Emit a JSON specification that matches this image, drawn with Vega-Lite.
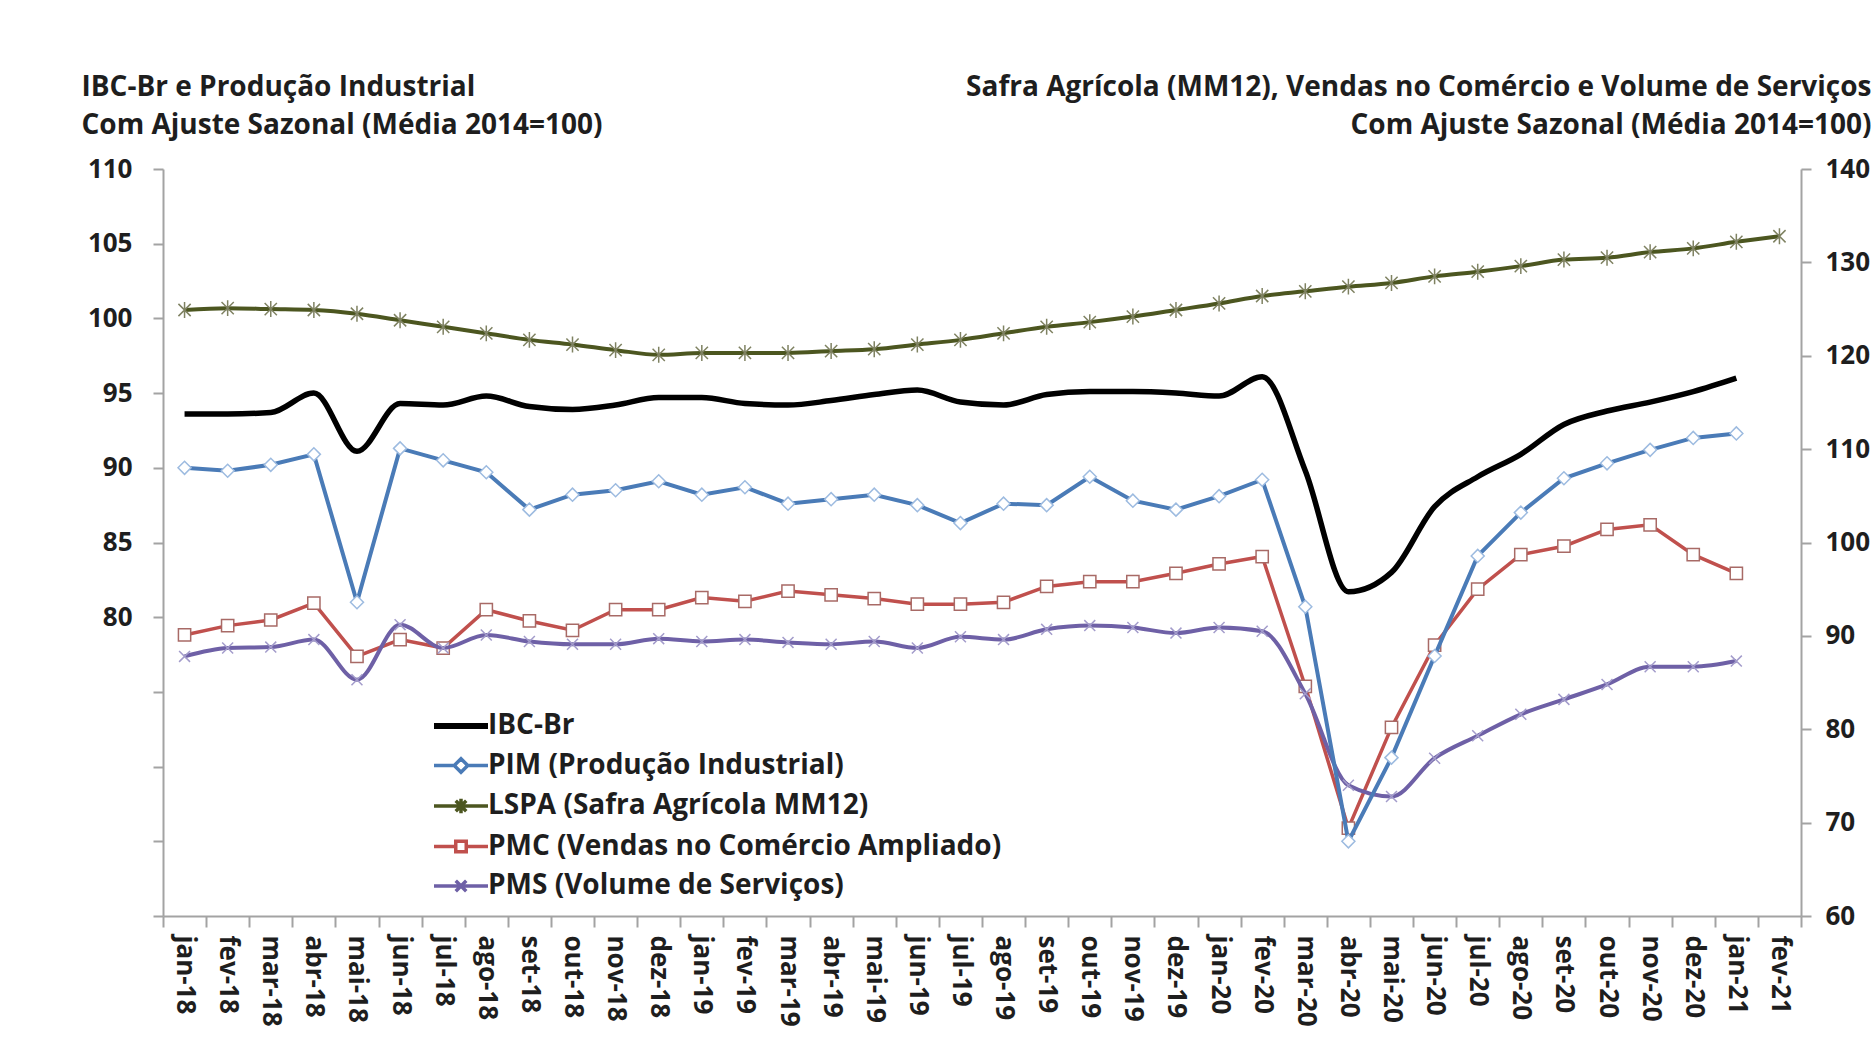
{
  "$schema": "https://vega.github.io/schema/vega-lite/v6.json",
  "width": 1638,
  "height": 747,
  "autosize": "none",
  "padding": {"left": 163, "top": 169, "right": 74, "bottom": 132},
  "background": "white",
  "config": {"view": {"stroke": null}, "font": "Open Sans", "axis": {"grid": false}},
  "data": {"values": [
    {"mes":"jan-18","serie":"IBC-Br","valor":93.6},{"mes":"fev-18","serie":"IBC-Br","valor":93.6},{"mes":"mar-18","serie":"IBC-Br","valor":93.7},{"mes":"abr-18","serie":"IBC-Br","valor":95.0},{"mes":"mai-18","serie":"IBC-Br","valor":91.1},{"mes":"jun-18","serie":"IBC-Br","valor":94.3},{"mes":"jul-18","serie":"IBC-Br","valor":94.2},{"mes":"ago-18","serie":"IBC-Br","valor":94.8},{"mes":"set-18","serie":"IBC-Br","valor":94.1},{"mes":"out-18","serie":"IBC-Br","valor":93.9},{"mes":"nov-18","serie":"IBC-Br","valor":94.2},{"mes":"dez-18","serie":"IBC-Br","valor":94.7},
    {"mes":"jan-19","serie":"IBC-Br","valor":94.7},{"mes":"fev-19","serie":"IBC-Br","valor":94.3},{"mes":"mar-19","serie":"IBC-Br","valor":94.2},{"mes":"abr-19","serie":"IBC-Br","valor":94.5},{"mes":"mai-19","serie":"IBC-Br","valor":94.9},{"mes":"jun-19","serie":"IBC-Br","valor":95.2},{"mes":"jul-19","serie":"IBC-Br","valor":94.4},{"mes":"ago-19","serie":"IBC-Br","valor":94.2},{"mes":"set-19","serie":"IBC-Br","valor":94.9},{"mes":"out-19","serie":"IBC-Br","valor":95.1},{"mes":"nov-19","serie":"IBC-Br","valor":95.1},{"mes":"dez-19","serie":"IBC-Br","valor":95.0},
    {"mes":"jan-20","serie":"IBC-Br","valor":94.8},{"mes":"fev-20","serie":"IBC-Br","valor":96.1},{"mes":"mar-20","serie":"IBC-Br","valor":89.8},{"mes":"abr-20","serie":"IBC-Br","valor":81.7},{"mes":"mai-20","serie":"IBC-Br","valor":83.0},{"mes":"jun-20","serie":"IBC-Br","valor":87.4},{"mes":"jul-20","serie":"IBC-Br","valor":89.4},{"mes":"ago-20","serie":"IBC-Br","valor":90.9},{"mes":"set-20","serie":"IBC-Br","valor":92.9},{"mes":"out-20","serie":"IBC-Br","valor":93.8},{"mes":"nov-20","serie":"IBC-Br","valor":94.4},{"mes":"dez-20","serie":"IBC-Br","valor":95.1},{"mes":"jan-21","serie":"IBC-Br","valor":96.0},

    {"mes":"jan-18","serie":"PIM (Produção Industrial)","valor":90.0},{"mes":"fev-18","serie":"PIM (Produção Industrial)","valor":89.8},{"mes":"mar-18","serie":"PIM (Produção Industrial)","valor":90.2},{"mes":"abr-18","serie":"PIM (Produção Industrial)","valor":90.9},{"mes":"mai-18","serie":"PIM (Produção Industrial)","valor":81.0},{"mes":"jun-18","serie":"PIM (Produção Industrial)","valor":91.3},{"mes":"jul-18","serie":"PIM (Produção Industrial)","valor":90.5},{"mes":"ago-18","serie":"PIM (Produção Industrial)","valor":89.7},{"mes":"set-18","serie":"PIM (Produção Industrial)","valor":87.2},{"mes":"out-18","serie":"PIM (Produção Industrial)","valor":88.2},{"mes":"nov-18","serie":"PIM (Produção Industrial)","valor":88.5},{"mes":"dez-18","serie":"PIM (Produção Industrial)","valor":89.1},
    {"mes":"jan-19","serie":"PIM (Produção Industrial)","valor":88.2},{"mes":"fev-19","serie":"PIM (Produção Industrial)","valor":88.7},{"mes":"mar-19","serie":"PIM (Produção Industrial)","valor":87.6},{"mes":"abr-19","serie":"PIM (Produção Industrial)","valor":87.9},{"mes":"mai-19","serie":"PIM (Produção Industrial)","valor":88.2},{"mes":"jun-19","serie":"PIM (Produção Industrial)","valor":87.5},{"mes":"jul-19","serie":"PIM (Produção Industrial)","valor":86.3},{"mes":"ago-19","serie":"PIM (Produção Industrial)","valor":87.6},{"mes":"set-19","serie":"PIM (Produção Industrial)","valor":87.5},{"mes":"out-19","serie":"PIM (Produção Industrial)","valor":89.4},{"mes":"nov-19","serie":"PIM (Produção Industrial)","valor":87.8},{"mes":"dez-19","serie":"PIM (Produção Industrial)","valor":87.2},
    {"mes":"jan-20","serie":"PIM (Produção Industrial)","valor":88.1},{"mes":"fev-20","serie":"PIM (Produção Industrial)","valor":89.2},{"mes":"mar-20","serie":"PIM (Produção Industrial)","valor":80.7},{"mes":"abr-20","serie":"PIM (Produção Industrial)","valor":65.0},{"mes":"mai-20","serie":"PIM (Produção Industrial)","valor":70.6},{"mes":"jun-20","serie":"PIM (Produção Industrial)","valor":77.4},{"mes":"jul-20","serie":"PIM (Produção Industrial)","valor":84.1},{"mes":"ago-20","serie":"PIM (Produção Industrial)","valor":87.0},{"mes":"set-20","serie":"PIM (Produção Industrial)","valor":89.3},{"mes":"out-20","serie":"PIM (Produção Industrial)","valor":90.3},{"mes":"nov-20","serie":"PIM (Produção Industrial)","valor":91.2},{"mes":"dez-20","serie":"PIM (Produção Industrial)","valor":92.0},{"mes":"jan-21","serie":"PIM (Produção Industrial)","valor":92.3},

    {"mes":"jan-18","serie":"LSPA (Safra Agrícola MM12)","valor":124.9},{"mes":"fev-18","serie":"LSPA (Safra Agrícola MM12)","valor":125.1},{"mes":"mar-18","serie":"LSPA (Safra Agrícola MM12)","valor":125.0},{"mes":"abr-18","serie":"LSPA (Safra Agrícola MM12)","valor":124.9},{"mes":"mai-18","serie":"LSPA (Safra Agrícola MM12)","valor":124.5},{"mes":"jun-18","serie":"LSPA (Safra Agrícola MM12)","valor":123.8},{"mes":"jul-18","serie":"LSPA (Safra Agrícola MM12)","valor":123.1},{"mes":"ago-18","serie":"LSPA (Safra Agrícola MM12)","valor":122.4},{"mes":"set-18","serie":"LSPA (Safra Agrícola MM12)","valor":121.7},{"mes":"out-18","serie":"LSPA (Safra Agrícola MM12)","valor":121.2},{"mes":"nov-18","serie":"LSPA (Safra Agrícola MM12)","valor":120.6},{"mes":"dez-18","serie":"LSPA (Safra Agrícola MM12)","valor":120.1},
    {"mes":"jan-19","serie":"LSPA (Safra Agrícola MM12)","valor":120.3},{"mes":"fev-19","serie":"LSPA (Safra Agrícola MM12)","valor":120.3},{"mes":"mar-19","serie":"LSPA (Safra Agrícola MM12)","valor":120.3},{"mes":"abr-19","serie":"LSPA (Safra Agrícola MM12)","valor":120.5},{"mes":"mai-19","serie":"LSPA (Safra Agrícola MM12)","valor":120.7},{"mes":"jun-19","serie":"LSPA (Safra Agrícola MM12)","valor":121.2},{"mes":"jul-19","serie":"LSPA (Safra Agrícola MM12)","valor":121.7},{"mes":"ago-19","serie":"LSPA (Safra Agrícola MM12)","valor":122.4},{"mes":"set-19","serie":"LSPA (Safra Agrícola MM12)","valor":123.1},{"mes":"out-19","serie":"LSPA (Safra Agrícola MM12)","valor":123.6},{"mes":"nov-19","serie":"LSPA (Safra Agrícola MM12)","valor":124.2},{"mes":"dez-19","serie":"LSPA (Safra Agrícola MM12)","valor":124.9},
    {"mes":"jan-20","serie":"LSPA (Safra Agrícola MM12)","valor":125.6},{"mes":"fev-20","serie":"LSPA (Safra Agrícola MM12)","valor":126.4},{"mes":"mar-20","serie":"LSPA (Safra Agrícola MM12)","valor":126.9},{"mes":"abr-20","serie":"LSPA (Safra Agrícola MM12)","valor":127.4},{"mes":"mai-20","serie":"LSPA (Safra Agrícola MM12)","valor":127.8},{"mes":"jun-20","serie":"LSPA (Safra Agrícola MM12)","valor":128.5},{"mes":"jul-20","serie":"LSPA (Safra Agrícola MM12)","valor":129.0},{"mes":"ago-20","serie":"LSPA (Safra Agrícola MM12)","valor":129.6},{"mes":"set-20","serie":"LSPA (Safra Agrícola MM12)","valor":130.3},{"mes":"out-20","serie":"LSPA (Safra Agrícola MM12)","valor":130.5},{"mes":"nov-20","serie":"LSPA (Safra Agrícola MM12)","valor":131.1},{"mes":"dez-20","serie":"LSPA (Safra Agrícola MM12)","valor":131.5},{"mes":"jan-21","serie":"LSPA (Safra Agrícola MM12)","valor":132.2},{"mes":"fev-21","serie":"LSPA (Safra Agrícola MM12)","valor":132.8},

    {"mes":"jan-18","serie":"PMC (Vendas no Comércio Ampliado)","valor":90.1},{"mes":"fev-18","serie":"PMC (Vendas no Comércio Ampliado)","valor":91.1},{"mes":"mar-18","serie":"PMC (Vendas no Comércio Ampliado)","valor":91.7},{"mes":"abr-18","serie":"PMC (Vendas no Comércio Ampliado)","valor":93.5},{"mes":"mai-18","serie":"PMC (Vendas no Comércio Ampliado)","valor":87.8},{"mes":"jun-18","serie":"PMC (Vendas no Comércio Ampliado)","valor":89.6},{"mes":"jul-18","serie":"PMC (Vendas no Comércio Ampliado)","valor":88.7},{"mes":"ago-18","serie":"PMC (Vendas no Comércio Ampliado)","valor":92.8},{"mes":"set-18","serie":"PMC (Vendas no Comércio Ampliado)","valor":91.6},{"mes":"out-18","serie":"PMC (Vendas no Comércio Ampliado)","valor":90.6},{"mes":"nov-18","serie":"PMC (Vendas no Comércio Ampliado)","valor":92.8},{"mes":"dez-18","serie":"PMC (Vendas no Comércio Ampliado)","valor":92.8},
    {"mes":"jan-19","serie":"PMC (Vendas no Comércio Ampliado)","valor":94.1},{"mes":"fev-19","serie":"PMC (Vendas no Comércio Ampliado)","valor":93.7},{"mes":"mar-19","serie":"PMC (Vendas no Comércio Ampliado)","valor":94.8},{"mes":"abr-19","serie":"PMC (Vendas no Comércio Ampliado)","valor":94.4},{"mes":"mai-19","serie":"PMC (Vendas no Comércio Ampliado)","valor":94.0},{"mes":"jun-19","serie":"PMC (Vendas no Comércio Ampliado)","valor":93.4},{"mes":"jul-19","serie":"PMC (Vendas no Comércio Ampliado)","valor":93.4},{"mes":"ago-19","serie":"PMC (Vendas no Comércio Ampliado)","valor":93.6},{"mes":"set-19","serie":"PMC (Vendas no Comércio Ampliado)","valor":95.3},{"mes":"out-19","serie":"PMC (Vendas no Comércio Ampliado)","valor":95.8},{"mes":"nov-19","serie":"PMC (Vendas no Comércio Ampliado)","valor":95.8},{"mes":"dez-19","serie":"PMC (Vendas no Comércio Ampliado)","valor":96.7},
    {"mes":"jan-20","serie":"PMC (Vendas no Comércio Ampliado)","valor":97.7},{"mes":"fev-20","serie":"PMC (Vendas no Comércio Ampliado)","valor":98.5},{"mes":"mar-20","serie":"PMC (Vendas no Comércio Ampliado)","valor":84.6},{"mes":"abr-20","serie":"PMC (Vendas no Comércio Ampliado)","valor":69.4},{"mes":"mai-20","serie":"PMC (Vendas no Comércio Ampliado)","valor":80.2},{"mes":"jun-20","serie":"PMC (Vendas no Comércio Ampliado)","valor":89.0},{"mes":"jul-20","serie":"PMC (Vendas no Comércio Ampliado)","valor":95.0},{"mes":"ago-20","serie":"PMC (Vendas no Comércio Ampliado)","valor":98.7},{"mes":"set-20","serie":"PMC (Vendas no Comércio Ampliado)","valor":99.6},{"mes":"out-20","serie":"PMC (Vendas no Comércio Ampliado)","valor":101.4},{"mes":"nov-20","serie":"PMC (Vendas no Comércio Ampliado)","valor":101.9},{"mes":"dez-20","serie":"PMC (Vendas no Comércio Ampliado)","valor":98.7},{"mes":"jan-21","serie":"PMC (Vendas no Comércio Ampliado)","valor":96.7},

    {"mes":"jan-18","serie":"PMS (Volume de Serviços)","valor":87.8},{"mes":"fev-18","serie":"PMS (Volume de Serviços)","valor":88.7},{"mes":"mar-18","serie":"PMS (Volume de Serviços)","valor":88.8},{"mes":"abr-18","serie":"PMS (Volume de Serviços)","valor":89.6},{"mes":"mai-18","serie":"PMS (Volume de Serviços)","valor":85.3},{"mes":"jun-18","serie":"PMS (Volume de Serviços)","valor":91.2},{"mes":"jul-18","serie":"PMS (Volume de Serviços)","valor":88.7},{"mes":"ago-18","serie":"PMS (Volume de Serviços)","valor":90.1},{"mes":"set-18","serie":"PMS (Volume de Serviços)","valor":89.4},{"mes":"out-18","serie":"PMS (Volume de Serviços)","valor":89.1},{"mes":"nov-18","serie":"PMS (Volume de Serviços)","valor":89.1},{"mes":"dez-18","serie":"PMS (Volume de Serviços)","valor":89.7},
    {"mes":"jan-19","serie":"PMS (Volume de Serviços)","valor":89.4},{"mes":"fev-19","serie":"PMS (Volume de Serviços)","valor":89.6},{"mes":"mar-19","serie":"PMS (Volume de Serviços)","valor":89.3},{"mes":"abr-19","serie":"PMS (Volume de Serviços)","valor":89.1},{"mes":"mai-19","serie":"PMS (Volume de Serviços)","valor":89.4},{"mes":"jun-19","serie":"PMS (Volume de Serviços)","valor":88.7},{"mes":"jul-19","serie":"PMS (Volume de Serviços)","valor":89.9},{"mes":"ago-19","serie":"PMS (Volume de Serviços)","valor":89.6},{"mes":"set-19","serie":"PMS (Volume de Serviços)","valor":90.7},{"mes":"out-19","serie":"PMS (Volume de Serviços)","valor":91.1},{"mes":"nov-19","serie":"PMS (Volume de Serviços)","valor":90.9},{"mes":"dez-19","serie":"PMS (Volume de Serviços)","valor":90.3},
    {"mes":"jan-20","serie":"PMS (Volume de Serviços)","valor":90.9},{"mes":"fev-20","serie":"PMS (Volume de Serviços)","valor":90.5},{"mes":"mar-20","serie":"PMS (Volume de Serviços)","valor":83.8},{"mes":"abr-20","serie":"PMS (Volume de Serviços)","valor":74.0},{"mes":"mai-20","serie":"PMS (Volume de Serviços)","valor":72.8},{"mes":"jun-20","serie":"PMS (Volume de Serviços)","valor":76.9},{"mes":"jul-20","serie":"PMS (Volume de Serviços)","valor":79.3},{"mes":"ago-20","serie":"PMS (Volume de Serviços)","valor":81.6},{"mes":"set-20","serie":"PMS (Volume de Serviços)","valor":83.2},{"mes":"out-20","serie":"PMS (Volume de Serviços)","valor":84.8},{"mes":"nov-20","serie":"PMS (Volume de Serviços)","valor":86.7},{"mes":"dez-20","serie":"PMS (Volume de Serviços)","valor":86.7},{"mes":"jan-21","serie":"PMS (Volume de Serviços)","valor":87.3}
  ]},
  "encoding": {
    "x": {
      "field": "mes", "type": "ordinal",
      "sort": ["jan-18","fev-18","mar-18","abr-18","mai-18","jun-18","jul-18","ago-18","set-18","out-18","nov-18","dez-18","jan-19","fev-19","mar-19","abr-19","mai-19","jun-19","jul-19","ago-19","set-19","out-19","nov-19","dez-19","jan-20","fev-20","mar-20","abr-20","mai-20","jun-20","jul-20","ago-20","set-20","out-20","nov-20","dez-20","jan-21","fev-21"],
      "bandPosition": 0.5,
      "scale": {"type": "band", "paddingInner": 0, "paddingOuter": 0},
      "axis": {
        "title": null, "labelAngle": 90, "labelAlign": "left", "labelBaseline": "middle",
        "labelFont": "Open Sans", "labelFontSize": 26, "labelFontWeight": "bold", "labelColor": "#1e1e1e",
        "labelPadding": 8, "labelOverlap": false, "tickBand": "extent", "tickSize": 11, "tickWidth": 2,
        "tickColor": "#a3a3a3", "domainColor": "#a3a3a3", "domainWidth": 2
      }
    }
  },
  "layer": [
    {
      "encoding": {
        "y": {
          "field": "valor", "type": "quantitative",
          "scale": {"domain": [60, 140], "nice": false, "zero": false},
          "axis": {
            "orient": "right", "values": [60, 70, 80, 90, 100, 110, 120, 130, 140],
            "labelFont": "Open Sans", "labelFontSize": 26, "labelFontWeight": "bold", "labelColor": "#1e1e1e",
            "labelPadding": 14, "tickSize": 10, "tickWidth": 2, "tickColor": "#a3a3a3",
            "domainColor": "#a3a3a3", "domainWidth": 2,
            "title": ["Safra Agrícola (MM12), Vendas no Comércio e Volume de Serviços", "Com Ajuste Sazonal  (Média 2014=100)"],
            "titleAngle": 0, "titleAlign": "right", "titleBaseline": "top", "titleX": 70, "titleY": -96,
            "titleFont": "Open Sans", "titleFontSize": 28, "titleFontWeight": "bold", "titleColor": "#1e1e1e", "titleLineHeight": 38
          }
        }
      },
      "layer": [
        {
          "transform": [{"filter": {"field": "serie", "equal": "LSPA (Safra Agrícola MM12)"}}],
          "mark": {"type": "line", "strokeWidth": 4, "interpolate": "monotone"},
          "encoding": {"color": {"field": "serie", "type": "nominal",
            "scale": {"domain": ["IBC-Br", "PIM (Produção Industrial)", "LSPA (Safra Agrícola MM12)", "PMC (Vendas no Comércio Ampliado)", "PMS (Volume de Serviços)"], "range": ["#000000", "#4a7bb7", "#4c5620", "#c0504d", "#6e60a6"]},
            "legend": {"title": null, "orient": "none", "legendX": 272, "legendY": 543, "padding": 0,
              "labelFont": "Open Sans", "labelFontSize": 28, "labelFontWeight": "bold", "labelColor": "#1e1e1e", "labelLimit": 1000, "labelOffset": 25,
              "symbolSize": 900, "rowPadding": 11.5,
              "encode": {"symbols": {"update": {
                "shape": {"signal": "datum.value === 'IBC-Br' ? 'M-1,0L2.6,0' : substring(datum.value,0,3)==='PIM' ? 'M-1,0L0.35,0M1.25,0L2.6,0M0.35,0L0.8,-0.45L1.25,0L0.8,0.45Z' : substring(datum.value,0,4)==='LSPA' ? 'M-1,0L2.6,0M0.45,-0.35L1.15,0.35M0.45,0.35L1.15,-0.35M0.8,-0.48L0.8,0.48' : substring(datum.value,0,3)==='PMC' ? 'M-1,0L0.45,0M1.15,0L2.6,0M0.45,-0.35L1.15,-0.35L1.15,0.35L0.45,0.35Z' : 'M-1,0L2.6,0M0.45,-0.35L1.15,0.35M0.45,0.35L1.15,-0.35'"},
                "fill": {"value": "white"},
                "strokeWidth": {"signal": "datum.value === 'IBC-Br' ? 6 : 3.5"}
              }}}
            }}}
        },
        {
          "transform": [{"filter": {"field": "serie", "equal": "LSPA (Safra Agrícola MM12)"}}],
          "mark": {"type": "point", "shape": "M-1,-1L1,1M-1,1L1,-1M0,-1.3L0,1.3", "filled": false, "stroke": "#7f8262", "strokeWidth": 1.5, "size": 150, "opacity": 1}
        },
        {
          "transform": [{"filter": {"field": "serie", "equal": "PMC (Vendas no Comércio Ampliado)"}}],
          "mark": {"type": "line", "strokeWidth": 3.5, "interpolate": "linear"},
          "encoding": {"color": {"field": "serie", "type": "nominal"}}
        },
        {
          "transform": [{"filter": {"field": "serie", "equal": "PMC (Vendas no Comércio Ampliado)"}}],
          "mark": {"type": "point", "shape": "square", "filled": true, "fill": "white", "stroke": "#a86a66", "strokeWidth": 1.5, "size": 150, "opacity": 1}
        },
        {
          "transform": [{"filter": {"field": "serie", "equal": "PMS (Volume de Serviços)"}}],
          "mark": {"type": "line", "strokeWidth": 4, "interpolate": "monotone"},
          "encoding": {"color": {"field": "serie", "type": "nominal"}}
        },
        {
          "transform": [{"filter": {"field": "serie", "equal": "PMS (Volume de Serviços)"}}],
          "mark": {"type": "point", "shape": "M-1,-1L1,1M-1,1L1,-1", "filled": false, "stroke": "#a39ccb", "strokeWidth": 1.5, "size": 120, "opacity": 1}
        }
      ]
    },
    {
      "encoding": {
        "y": {
          "field": "valor", "type": "quantitative",
          "scale": {"domain": [60, 110], "nice": false, "zero": false},
          "axis": {
            "orient": "left", "values": [60, 65, 70, 75, 80, 85, 90, 95, 100, 105, 110],
            "labelExpr": "datum.value >= 80 ? datum.label : ''",
            "labelFont": "Open Sans", "labelFontSize": 26, "labelFontWeight": "bold", "labelColor": "#1e1e1e",
            "labelPadding": 21, "tickSize": 10, "tickWidth": 2, "tickColor": "#a3a3a3",
            "domainColor": "#a3a3a3", "domainWidth": 2,
            "title": ["IBC-Br e Produção  Industrial", "Com Ajuste Sazonal  (Média 2014=100)"],
            "titleAngle": 0, "titleAlign": "left", "titleBaseline": "top", "titleX": -82, "titleY": -96,
            "titleFont": "Open Sans", "titleFontSize": 28, "titleFontWeight": "bold", "titleColor": "#1e1e1e", "titleLineHeight": 38
          }
        }
      },
      "layer": [
        {
          "transform": [{"filter": {"field": "serie", "equal": "PIM (Produção Industrial)"}}],
          "mark": {"type": "line", "strokeWidth": 4, "interpolate": "linear"},
          "encoding": {"color": {"field": "serie", "type": "nominal"}}
        },
        {
          "transform": [{"filter": {"field": "serie", "equal": "PIM (Produção Industrial)"}}],
          "mark": {"type": "point", "shape": "diamond", "filled": true, "fill": "white", "stroke": "#9dbbe0", "strokeWidth": 1.5, "size": 170, "opacity": 1}
        },
        {
          "transform": [{"filter": {"field": "serie", "equal": "IBC-Br"}}],
          "mark": {"type": "line", "strokeWidth": 5.5, "interpolate": "monotone"},
          "encoding": {"color": {"field": "serie", "type": "nominal"}}
        }
      ]
    }
  ],
  "resolve": {"scale": {"y": "independent"}, "axis": {"y": "independent"}}
}
